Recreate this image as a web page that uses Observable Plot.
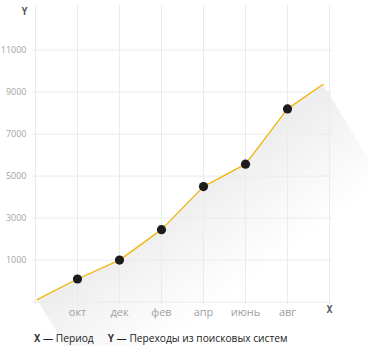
<!DOCTYPE html>
<html>
<head>
<meta charset="utf-8">
<script src="https://cdn.jsdelivr.net/npm/d3@7"></script>
<script src="https://cdn.jsdelivr.net/npm/@observablehq/plot@0.6"></script>
<style>
  body { margin: 0; background: #fff; }
  #chart svg { display: block; overflow: visible; }
  .caption { font-family: "Open Sans", sans-serif; font-size: 10.2px; color: #222; padding-left: 34px; margin-top: 8px; line-height: 16px; white-space: nowrap; }
  .caption b { font-family: "DejaVu Sans Mono", monospace; font-size: 10.5px; color: #333; }
  .caption .gap { display: inline-block; width: 14px; }
</style>
</head>
<body>
<div id="chart"></div>
<div class="caption"><b>X</b> — Период<span class="gap"></span><b>Y</b> — Переходы из поисковых систем</div>
<script>
// ---- data ----
const months = ["окт", "дек", "фев", "апр", "июнь", "авг"];
const monthPos = [1, 2, 3, 4, 5, 6];
const visits = [100, 1000, 2450, 4500, 5570, 8200];
const leadIn = { x: 0.04, y: -880 };
const leadOut = { x: 6.85, y: 9370 };
const yTicks = [1000, 3000, 5000, 7000, 9000, 11000];
const yGrid = [-1000, 1000, 3000, 5000, 7000, 9000, 11000];
const xGrid = [0, 1, 2, 3, 4, 5, 6, 7];

const points = monthPos.map((x, i) => ({ x, y: visits[i], label: months[i] }));
const lineData = [leadIn, ...points, leadOut];

function shadowMark(index, scales, values, dimensions, context) {
  const ns = "http://www.w3.org/2000/svg";
  const g = document.createElementNS(ns, "g");
  const defs = document.createElementNS(ns, "defs");
  const grad = document.createElementNS(ns, "linearGradient");
  grad.setAttribute("id", "shadowGrad");
  grad.setAttribute("gradientUnits", "userSpaceOnUse");
  const pts = lineData.map(d => [scales.x(d.x), scales.y(d.y)]);
  const mid = pts[Math.floor(pts.length / 2) - 1];
  const ux = 0.6, uy = 0.8, len = 95;
  grad.setAttribute("x1", mid[0] - ux * 10);
  grad.setAttribute("y1", mid[1] - uy * 10);
  grad.setAttribute("x2", mid[0] + ux * len);
  grad.setAttribute("y2", mid[1] + uy * len);
  [[0, "#eeeeee"], [0.45, "#f6f6f6"], [1, "#ffffff"]].forEach(([o, c]) => {
    const s = document.createElementNS(ns, "stop");
    s.setAttribute("offset", o);
    s.setAttribute("stop-color", c);
    grad.appendChild(s);
  });
  defs.appendChild(grad);
  g.appendChild(defs);
  const D = 160, vx = 0.61 * D, vy = D;
  const poly = pts.concat(pts.slice().reverse().map(([x, y]) => [x + vx, y + vy]));
  const path = document.createElementNS(ns, "path");
  path.setAttribute("d", "M" + poly.map(p => p.join(",")).join("L") + "Z");
  path.setAttribute("fill", "url(#shadowGrad)");
  g.appendChild(path);
  return g;
}

const chart = Plot.plot({
  width: 368,
  height: 322,
  marginLeft: 32,
  marginRight: 36,
  marginTop: 5,
  marginBottom: 18,
  x: { domain: [0, 7], range: [35, 329] },
  y: { domain: [-1000, 13000], range: [301.6, 7.6] },
  style: { fontFamily: "'Open Sans', sans-serif", fontSize: "11px", background: "#fff" },
  marks: [
    shadowMark,
    Plot.ruleX(xGrid, { stroke: "#ebebeb", strokeWidth: 1 }),
    Plot.ruleY(yGrid, { stroke: "#ebebeb", strokeWidth: 1 }),
    Plot.axisY({ ticks: yTicks, tickSize: 0, tickPadding: 6, fill: "#a3a3a3", fontSize: 9, label: null, tickFormat: d => String(d) }),
    Plot.axisX({ ticks: monthPos, tickSize: 0, tickPadding: 4, fill: "#a0a0a0", label: null, tickFormat: d => months[d - 1] }),
    Plot.line(lineData, { x: "x", y: "y", stroke: "#f2b60b", strokeWidth: 1.3 }),
    Plot.dot(points, { x: "x", y: "y", r: 4.6, fill: "#1c1c1c", stroke: "none" }),
    Plot.text(["Y"], { frameAnchor: "top-left", dx: -11, dy: 2, fontFamily: "DejaVu Sans Mono", fontWeight: "bold", fontSize: 10, fill: "#555" }),
    Plot.text(["X"], { frameAnchor: "bottom-right", dx: 0, dy: 8, fontFamily: "DejaVu Sans Mono", fontWeight: "bold", fontSize: 10, fill: "#555" })
  ]
});
document.getElementById("chart").appendChild(chart);
</script>
</body>
</html>
